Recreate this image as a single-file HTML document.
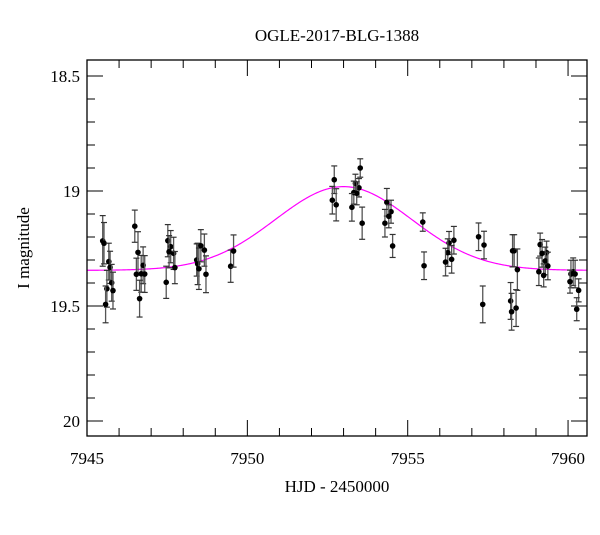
<!DOCTYPE html>
<html><head><meta charset="utf-8"><style>
body{margin:0;background:#fff}
svg text{font-family:"Liberation Serif",serif;fill:#000}
</style></head><body>
<svg id="chart" width="600" height="512" viewBox="0 0 600 512"></svg>
<script>
const times=[7945.49,7945.53,7945.68,7945.72,7945.77,7945.62,7945.81,7945.58,7946.49,7946.59,7946.54,7946.69,7946.75,7946.80,7946.64,7947.52,7947.61,7947.56,7947.70,7947.74,7947.47,7948.42,7948.45,7948.49,7948.55,7948.66,7948.71,7949.48,7949.57,7952.71,7952.65,7952.77,7953.52,7953.37,7953.48,7953.32,7953.41,7953.26,7953.58,7954.35,7954.48,7954.41,7954.29,7954.53,7955.47,7955.51,7956.29,7956.44,7956.25,7956.37,7956.18,7957.21,7957.38,7957.34,7958.27,7958.32,7958.42,7958.21,7958.24,7958.38,7959.13,7959.19,7959.33,7959.29,7959.37,7959.09,7959.24,7960.16,7960.09,7960.22,7960.06,7960.33,7960.27];
const mags=[19.217,19.227,19.307,19.332,19.399,19.425,19.433,19.493,19.153,19.267,19.362,19.360,19.323,19.361,19.468,19.216,19.242,19.264,19.271,19.333,19.397,19.300,19.317,19.338,19.238,19.257,19.362,19.327,19.261,18.951,19.040,19.060,18.900,18.967,18.986,19.007,19.010,19.071,19.140,19.049,19.090,19.110,19.140,19.239,19.135,19.325,19.226,19.214,19.268,19.297,19.309,19.199,19.235,19.493,19.260,19.260,19.342,19.478,19.525,19.509,19.233,19.271,19.268,19.304,19.326,19.351,19.367,19.351,19.361,19.361,19.394,19.432,19.514];
const errs=[0.11,0.09,0.08,0.07,0.08,0.08,0.08,0.08,0.07,0.09,0.07,0.08,0.08,0.08,0.08,0.07,0.07,0.07,0.07,0.07,0.07,0.07,0.09,0.09,0.07,0.07,0.08,0.07,0.07,0.06,0.06,0.07,0.04,0.04,0.04,0.05,0.05,0.06,0.07,0.06,0.05,0.05,0.06,0.05,0.04,0.06,0.05,0.06,0.06,0.06,0.06,0.06,0.06,0.08,0.07,0.07,0.09,0.08,0.08,0.08,0.05,0.06,0.05,0.06,0.06,0.06,0.05,0.06,0.06,0.06,0.05,0.05,0.05];
const xTicks=[7945,7950,7955,7960];
const yTicks=[18.5,19,19.5,20];
const modelBase=19.345, modelPeak=0.364, modelT0=7953.0, modelWidth=2.13;

const L=87,R=587,T=60,B=436;
const xMin=7945-0/32.07, xPx=32.07;
function X(t){return L+(t-7945)*xPx;}
function Y(m){return 76+(m-18.5)*230;}
const ns="http://www.w3.org/2000/svg";
const svg=document.getElementById('chart');
function mk(tag,attrs,parent){const e=document.createElementNS(ns,tag);for(const k in attrs)e.setAttribute(k,attrs[k]);(parent||svg).appendChild(e);return e;}

// ticks
const tg=mk('g',{stroke:'#000','stroke-width':1});


for(let t=7945;t<=7960;t++){const len=(t%5===0)?16:8;const x=X(t);
 mk('line',{x1:x,y1:B,x2:x,y2:B-len},tg);mk('line',{x1:x,y1:T,x2:x,y2:T+len},tg);}
for(let i=185;i<=200;i++){const m=i/10;const len=(i%5===0)?16:8;const y=Y(m);if(y<T||y>B)continue;
 mk('line',{x1:L,y1:y,x2:L+len,y2:y},tg);mk('line',{x1:R,y1:y,x2:R-len,y2:y},tg);}

// model
let d='';
for(let px=L;px<=R;px++){const t=7945+(px-L)/xPx;const dt=t-modelT0;const m=modelBase-modelPeak*Math.exp(-dt*dt/(2*modelWidth*modelWidth));d+=(d?'L':'M')+px+','+Y(m).toFixed(2);}
const curve=mk('path',{d:d,fill:'none',stroke:'#ff00ff','stroke-width':1.2});



// data
const pg=mk('g',{});


times.forEach((t,i)=>{const x=X(t),y=Y(mags[i]),e=errs[i]*230;
 const g=mk('g',{},pg);
 
 
 mk('line',{x1:x,y1:y-e,x2:x,y2:y+e,stroke:'#555','stroke-width':1.3},g);
 mk('line',{x1:x-3,y1:y-e,x2:x+3,y2:y-e,stroke:'#333','stroke-width':1.2},g);
 mk('line',{x1:x-3,y1:y+e,x2:x+3,y2:y+e,stroke:'#333','stroke-width':1.2},g);
 mk('circle',{cx:x,cy:y,r:2.8,fill:'#000'},g);
});

// frame
const fr=mk('rect',{x:L,y:T,width:R-L,height:B-T,fill:'none',stroke:'#000','stroke-width':1.3});



xTicks.forEach(v=>{const t=mk('text',{x:X(v),y:464,'text-anchor':'middle','font-size':17});t.textContent=v;
 
 });
yTicks.forEach(v=>{const t=mk('text',{x:80,y:Y(v)+6,'text-anchor':'end','font-size':17});t.textContent=v;
 
 });
</script>
<svg width="0" height="0"></svg>
<div style="position:absolute;left:0;top:0;width:600px;height:512px;pointer-events:none">
<svg width="600" height="512">
<text x="337" y="41" text-anchor="middle" font-size="17">OGLE-2017-BLG-1388</text>
<text x="337" y="492" text-anchor="middle" font-size="17">HJD - 2450000</text>
<text transform="translate(29,248) rotate(-90)" text-anchor="middle" font-size="17">I magnitude</text>
</svg></div>
</body></html>
